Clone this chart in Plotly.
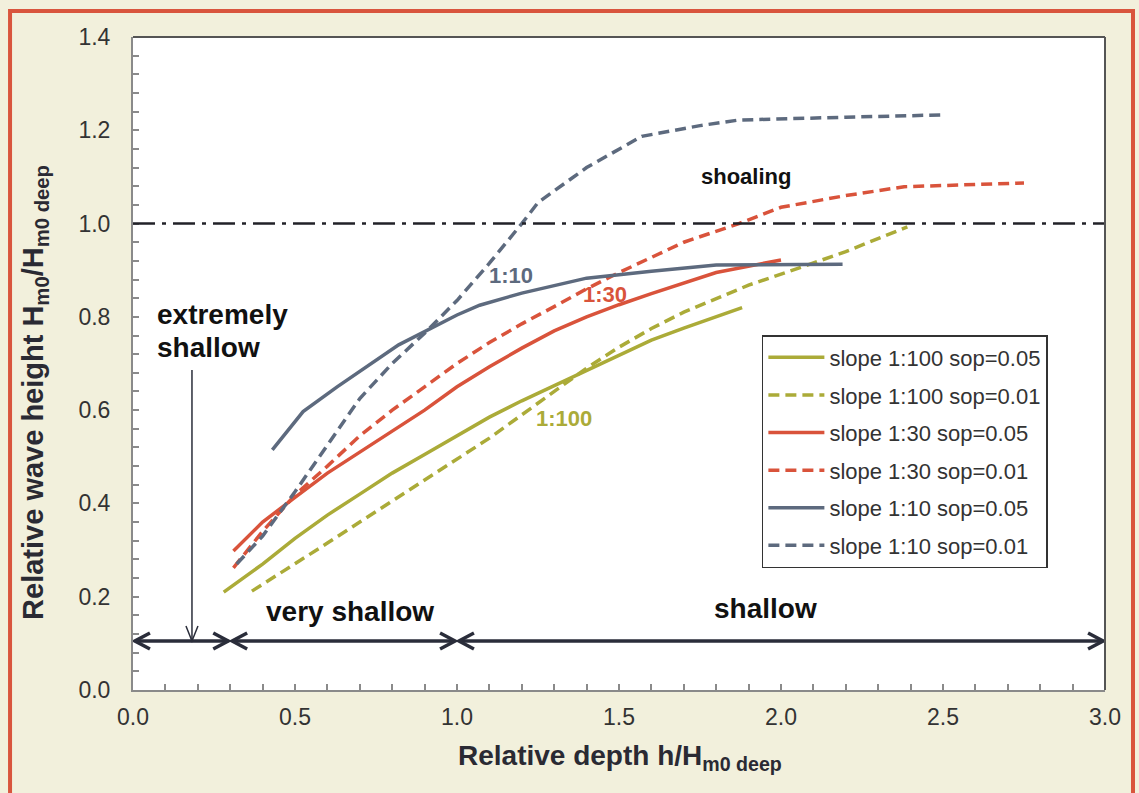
import plotly.graph_objects as go

# ---------------- data ----------------
olive_solid_x = [0.28, 0.4, 0.5, 0.6, 0.7, 0.8, 0.9, 1.0, 1.1, 1.2, 1.3, 1.4, 1.5, 1.6, 1.7, 1.88]
olive_solid_y = [0.21, 0.27, 0.325, 0.375, 0.42, 0.465, 0.505, 0.545, 0.585, 0.62, 0.653, 0.685, 0.718, 0.75, 0.776, 0.82]

olive_dash_x = [0.367, 0.5, 0.6, 0.7, 0.8, 0.9, 1.0, 1.1, 1.2, 1.3, 1.4, 1.5, 1.6, 1.7, 1.8, 1.9, 2.065, 2.2, 2.39]
olive_dash_y = [0.212, 0.27, 0.315, 0.36, 0.405, 0.45, 0.495, 0.54, 0.59, 0.64, 0.69, 0.735, 0.775, 0.81, 0.84, 0.868, 0.907, 0.94, 0.993]

red_solid_x = [0.31, 0.4, 0.5, 0.6, 0.7, 0.8, 0.9, 1.0, 1.1, 1.2, 1.3, 1.4, 1.5, 1.6, 1.8, 2.0]
red_solid_y = [0.298, 0.36, 0.413, 0.465, 0.51, 0.555, 0.6, 0.65, 0.693, 0.733, 0.77, 0.8, 0.826, 0.85, 0.895, 0.922]

red_dash_x = [0.31, 0.4, 0.5, 0.6, 0.7, 0.8, 0.9, 1.0, 1.1, 1.2, 1.3, 1.4, 1.5, 1.7, 1.87, 2.0, 2.2, 2.38, 2.75]
red_dash_y = [0.262, 0.34, 0.418, 0.48, 0.545, 0.6, 0.65, 0.7, 0.745, 0.785, 0.822, 0.86, 0.895, 0.96, 1.0, 1.035, 1.06, 1.079, 1.087]

gray_solid_x = [0.43, 0.525, 0.63, 0.82, 1.0, 1.07, 1.2, 1.4, 1.6, 1.8, 2.19]
gray_solid_y = [0.515, 0.597, 0.65, 0.74, 0.804, 0.825, 0.851, 0.883, 0.898, 0.911, 0.913]

gray_dash_x = [0.32, 0.4, 0.5, 0.6, 0.7, 0.8, 0.9, 1.0, 1.1, 1.2, 1.25, 1.4, 1.57, 1.75, 1.87, 2.2, 2.5]
gray_dash_y = [0.27, 0.33, 0.425, 0.525, 0.625, 0.70, 0.765, 0.835, 0.915, 1.0, 1.045, 1.12, 1.187, 1.21, 1.222, 1.228, 1.233]

series_names = ["slope 1:100 sop=0.05", "slope 1:100 sop=0.01",
                "slope 1:30 sop=0.05", "slope 1:30 sop=0.01",
                "slope 1:10 sop=0.05", "slope 1:10 sop=0.01"]

shoaling_level = 1.0
zone_bounds = [0.0, 0.3, 1.0, 3.0]
zone_arrow_y = 0.105
zone_labels = ["very shallow", "shallow"]

# ---------------- style ----------------
OLIVE = "#abab38"
RED = "#d9533b"
GRAY = "#5d6a7e"
DARK = "#2a2d3a"
BG = "#f2f0dc"
FONT = "Arial, Liberation Sans, sans-serif"
DASH = "11px,6px"

fig = go.Figure()
series = [
    (olive_solid_x, olive_solid_y, OLIVE, "solid"),
    (olive_dash_x, olive_dash_y, OLIVE, DASH),
    (red_solid_x, red_solid_y, RED, "solid"),
    (red_dash_x, red_dash_y, RED, DASH),
    (gray_solid_x, gray_solid_y, GRAY, "solid"),
    (gray_dash_x, gray_dash_y, GRAY, DASH),
]
for i, ((xs, ys, c, d), name) in enumerate(zip(series, series_names)):
    fig.add_trace(go.Scatter(x=xs, y=ys, mode="lines", name=name, legendgroup=f"g{i}",
                             line=dict(color=c, width=3.5, dash=d)))

# shoaling reference line
fig.add_shape(type="line", xref="paper", x0=0, x1=1, yref="y", y0=shoaling_level, y1=shoaling_level,
              line=dict(color="#222228", width=2.5, dash="22px,7px,4px,7px"))

# zone arrows
gaps = 0.006
for i in range(len(zone_bounds) - 1):
    a = zone_bounds[i] + gaps
    b = zone_bounds[i + 1] - gaps
    fig.add_shape(type="line", x0=a, x1=b, y0=zone_arrow_y, y1=zone_arrow_y,
                  line=dict(color=DARK, width=3.5))
    for tip, sgn in ((a, 1), (b, -1)):
        fig.add_shape(type="path", xsizemode="pixel", ysizemode="pixel",
                      xanchor=tip, yanchor=zone_arrow_y,
                      path=f"M{sgn*15},8 L0,0 L{sgn*15},-8",
                      line=dict(color=DARK, width=3.5), fillcolor="rgba(0,0,0,0)")

# thin pointer arrow for "extremely shallow"
ptr_x = 0.182
fig.add_shape(type="line", x0=ptr_x, x1=ptr_x, y0=0.686, y1=zone_arrow_y,
              line=dict(color=DARK, width=1.5))
fig.add_shape(type="path", xsizemode="pixel", ysizemode="pixel", xanchor=ptr_x, yanchor=zone_arrow_y,
              path="M-6,15 L0,0 L6,15", line=dict(color=DARK, width=1.5), fillcolor="rgba(0,0,0,0)")

# plot frame top/right
fig.add_shape(type="line", xref="paper", yref="paper", x0=0, x1=1, y0=1, y1=1, line=dict(color="#555", width=2))
fig.add_shape(type="line", xref="paper", yref="paper", x0=1, x1=1, y0=0, y1=1, line=dict(color="#555", width=2))

# outer red frame
fig.add_shape(type="path", xref="paper", yref="paper",
              path="M -0.1265,-0.2 L -0.1265,1.0398 L 1.0288,1.0398 L 1.0288,-0.2",
              line=dict(color="#d9553d", width=4), fillcolor="rgba(0,0,0,0)", layer="below")

ann = [
    dict(text="<b>extremely</b>", x=0.068, y=0.806, xanchor="left", font=dict(size=28, color="#111")),
    dict(text="<b>shallow</b>", x=0.068, y=0.734, xanchor="left", font=dict(size=28, color="#111")),
    dict(text=f"<b>{zone_labels[0]}</b>", x=0.67, y=0.168, font=dict(size=28, color="#111")),
    dict(text=f"<b>{zone_labels[1]}</b>", x=1.951, y=0.175, font=dict(size=28, color="#111")),
    dict(text="<b>shoaling</b>", x=1.892, y=1.102, font=dict(size=22, color="#111")),
    dict(text="<b>1:10</b>", x=1.167, y=0.888, font=dict(size=22, color=GRAY)),
    dict(text="<b>1:30</b>", x=1.457, y=0.847, font=dict(size=22, color=RED)),
    dict(text="<b>1:100</b>", x=1.329, y=0.583, font=dict(size=22, color=OLIVE)),
]
for a in ann:
    fig.add_annotation(showarrow=False, yanchor="middle", xref="x", yref="y", **a)

# axis titles as annotations
fig.add_annotation(text="<b>Relative wave height H<sub>m0</sub>/H<sub>m0 deep</sub></b>",
                   xref="paper", yref="paper", x=-0.1008, y=0.455, textangle=-90,
                   showarrow=False, xanchor="center", yanchor="middle",
                   font=dict(size=29, color="#2a2a33"))
fig.add_annotation(text="<b>Relative depth h/H<sub>m0 deep</sub></b>",
                   xref="paper", yref="paper", x=0.501, y=-0.104,
                   showarrow=False, xanchor="center", yanchor="middle",
                   font=dict(size=28, color="#2a2a33"))

axis_common = dict(showline=True, linecolor="#8a8a8a", linewidth=2, ticks="inside", ticklen=6,
                   tickcolor="#8a8a8a", tickwidth=1.5, showgrid=False, zeroline=False,
                   tickfont=dict(size=23, color="#333"))
fig.update_xaxes(range=[0, 3], dtick=0.5, tick0=0, tickformat=".1f",
                 minor=dict(dtick=0.1, ticks="inside", ticklen=6, tickcolor="#8a8a8a", tickwidth=1.5),
                 ticklabelstandoff=5, **axis_common)
fig.update_yaxes(range=[0, 1.4], dtick=0.2, tick0=0, tickformat=".1f",
                 minor=dict(dtick=0.04, ticks="inside", ticklen=6, tickcolor="#8a8a8a", tickwidth=1.5),
                 ticklabelstandoff=16, **axis_common)

fig.update_layout(
    width=1139, height=793,
    margin=dict(l=133, r=34, t=37, b=103),
    paper_bgcolor=BG, plot_bgcolor="white",
    font=dict(family=FONT, color="#333"),
    legend=dict(x=0.647, y=0.5436, xanchor="left", yanchor="top",
                bgcolor="white", bordercolor="#333", borderwidth=1.5, itemwidth=56,
                font=dict(size=22, color="#333"), tracegroupgap=6),
    showlegend=True,
)

fig.write_html("out.html")
